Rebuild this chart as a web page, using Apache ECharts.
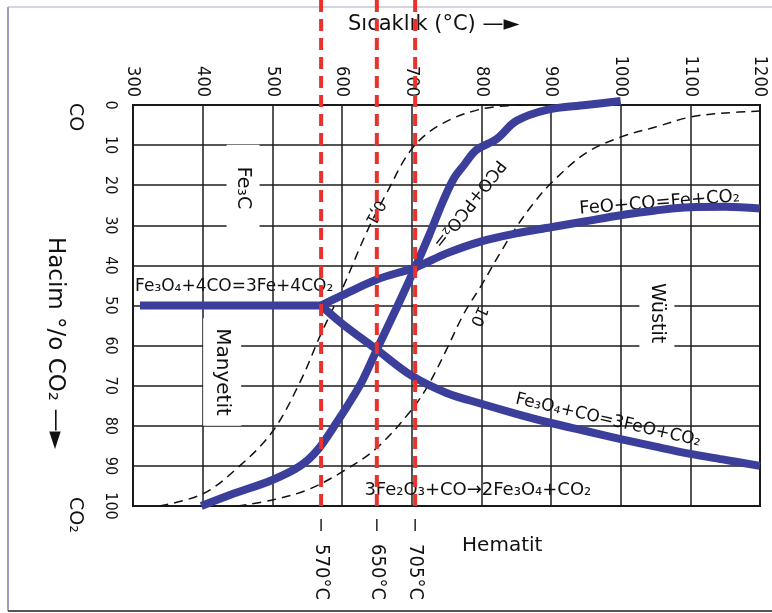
<!DOCTYPE html>
<html>
<head>
<meta charset="utf-8">
<script src="https://cdn.jsdelivr.net/npm/echarts@6/dist/echarts.min.js"></script>
<style>
  html, body { margin: 0; padding: 0; background: #fff; }
  #chart { width: 772px; height: 613px; }
</style>
</head>
<body>
<div id="chart"></div>
<script>
// Temperature (°C) vs. gas composition (vol.% CO2) – iron oxide reduction equilibria
const tempMin = 300, tempMax = 1200, tempStep = 100;
const co2Min = 0, co2Max = 100, co2Step = 10;

// Phase boundaries [°C, % CO2]
const fe3o4ToFe = [[310, 50], [570, 50]];
const feoToFe = [[570, 50], [600, 47.5], [650, 43.5], [705, 40.5], [750, 37], [800, 34], [850, 32],
  [900, 30.5], [950, 29], [1000, 27.5], [1050, 26.3], [1100, 25.5], [1150, 25.4], [1200, 25.8]];
const fe3o4ToFeo = [[570, 50], [600, 54.5], [650, 61], [700, 67.5], [750, 71.8], [800, 74.5], [850, 77],
  [900, 79.3], [950, 81.3], [1000, 83.3], [1050, 85.2], [1100, 87], [1150, 88.5], [1200, 90]];

// Boudouard equilibrium, total pressure 1 atm
const boudouard1 = [[398, 100], [440, 97.2], [500, 93.5], [540, 90], [565, 86], [593, 79], [615, 73],
  [630, 68.5], [650, 61], [680, 50], [705, 40.5], [725, 32.5], [745, 24], [760, 18.5], [775, 15],
  [793, 11.2], [822, 8.5], [850, 4], [894, 1.2], [950, 0], [1000, -1]];
// Boudouard equilibrium, 0.1 atm and 10 atm
const boudouard01 = [[338, 100], [400, 97], [450, 90.5], [500, 81.5], [540, 69], [570, 57], [600, 46],
  [636, 31.5], [664, 22], [700, 11], [740, 5], [800, 1], [860, 0]];
const boudouard10 = [[450, 100], [500, 98.5], [550, 96], [600, 91.5], [650, 85.5], [700, 76], [725, 69.5],
  [750, 61], [775, 52], [800, 45], [825, 37.5], [850, 30.5], [875, 24.5], [900, 19.5], [950, 12],
  [1000, 8], [1050, 5.5], [1100, 3], [1150, 2], [1200, 1.5]];

// Characteristic temperatures
const isotherms = [570, 650, 705];

const FONT = "'DejaVu Sans', sans-serif";
const NARROW = "'DejaVu Sans Condensed', 'DejaVu Sans', sans-serif";
const BLUE = '#3b3e9a';
const RED = '#e8322b';

const chart = echarts.init(document.getElementById('chart'), null, { renderer: 'canvas' });

function thick(data) {
  return {
    type: 'line', data: data, showSymbol: false, symbol: 'none', smooth: 0.35,
    clip: false, z: 5,
    lineStyle: { color: BLUE, width: 8, cap: 'butt', join: 'round' }
  };
}
function dashed(data) {
  return {
    type: 'line', data: data, showSymbol: false, symbol: 'none', smooth: 0.35,
    clip: true, z: 4,
    lineStyle: { color: '#111', width: 1.5, type: [9, 6] }
  };
}

chart.setOption({
  animation: false,
  backgroundColor: '#fff',
  grid: { left: 133, top: 105, width: 627, height: 401, show: true, borderColor: '#111', borderWidth: 2,
    backgroundColor: 'transparent' },
  xAxis: {
    type: 'value', position: 'top', min: tempMin, max: tempMax, interval: tempStep,
    axisLine: { show: false }, axisTick: { show: false },
    axisLabel: { rotate: -90, margin: 8, fontSize: 18, fontFamily: NARROW, color: '#111',
      formatter: v => String(v) },
    splitLine: { show: true, lineStyle: { color: '#1c1c1c', width: 1.5 } }
  },
  yAxis: {
    type: 'value', inverse: true, min: co2Min, max: co2Max, interval: co2Step,
    axisLine: { show: false }, axisTick: { show: false },
    axisLabel: { rotate: -90, margin: 15, fontSize: 16, fontFamily: NARROW, color: '#111',
      formatter: v => String(v) },
    splitLine: { show: true, lineStyle: { color: '#1c1c1c', width: 1.5 } }
  },
  series: [
    dashed(boudouard01),
    dashed(boudouard10),
    thick(fe3o4ToFe),
    thick(feoToFe),
    thick(fe3o4ToFeo),
    thick(boudouard1),
    {
      type: 'custom', coordinateSystem: 'cartesian2d', clip: false, z: 10,
      data: isotherms.map(t => [t, 0]),
      renderItem: function (params, api) {
        const t = api.value(0);
        const x = api.coord([t, co2Min])[0];
        const yB = api.coord([t, co2Max])[1];
        return {
          type: 'group', children: [
            { type: 'line', shape: { x1: x, y1: 0, x2: x, y2: yB + 3 },
              style: { stroke: RED, lineWidth: 4, lineDash: [12, 7] } },
            { type: 'line', shape: { x1: x, y1: yB + 13, x2: x, y2: yB + 25 },
              style: { stroke: '#222', lineWidth: 1.5 } },
            { type: 'text', x: x, y: yB + 66, rotation: -Math.PI / 2,
              style: { text: t + '°C', fontSize: 20, fontFamily: NARROW, fill: '#111',
                align: 'center', verticalAlign: 'middle' } }
          ]
        };
      }
    }
  ]
});

// Text annotations placed in data coordinates
const deg = d => d * Math.PI / 180;
const annotations = [
  { text: 'Fe₃C', at: [458, 20.7], rot: -90, size: 19, pad: [7, 22] },
  { text: 'Manyetit', at: [428, 66.6], rot: -90, size: 20, pad: [9, 10] },
  { text: 'Wüstit', at: [1052, 51.9], rot: -90, size: 19, pad: [8, 6] },
  { text: 'Hematit', at: [830, 110], rot: 0, size: 20 },
  { text: 'Fe₃O₄+4CO=3Fe+4CO₂', at: [303, 45.4], rot: 0, size: 17, align: 'left' },
  { text: 'FeO+CO=Fe+CO₂', at: [1056, 24.4], rot: 4.5, size: 18 },
  { text: 'Fe₃O₄+CO=3FeO+CO₂', at: [982, 78.6], rot: -13, size: 17 },
  { text: '3Fe₂O₃+CO→2Fe₃O₄+CO₂', at: [795, 96], rot: 0, size: 18 },
  { text: 'PCO+PCO₂=', at: [782, 24.6], rot: -128, size: 17 },
  { text: '0,1', at: [647, 26.7], rot: -118, size: 16 },
  { text: '10', at: [796, 52.6], rot: -115, size: 16 }
];

const graphics = annotations.map(a => {
  const p = chart.convertToPixel({ gridIndex: 0 }, a.at);
  const style = { text: a.text, fontSize: a.size, fontFamily: FONT, fill: '#111',
    align: a.align || 'center', verticalAlign: 'middle' };
  if (a.pad) { style.backgroundColor = '#fff'; style.padding = a.pad; }
  return { type: 'text', x: p[0], y: p[1], rotation: deg(a.rot), z: 1, style: style };
});

// Axis titles and frame
graphics.push(
  { type: 'text', x: 348, y: 25, z: 1,
    style: { text: 'Sıcaklık (°C) —►', fontSize: 21, fontFamily: FONT, fill: '#111',
      align: 'left', verticalAlign: 'middle' } },
  { type: 'text', x: 55, y: 343, rotation: -Math.PI / 2, z: 1,
    style: { text: 'Hacim °/o CO₂ —►', fontSize: 23, fontFamily: FONT, fill: '#111',
      align: 'center', verticalAlign: 'middle' } },
  { type: 'text', x: 75, y: 117, rotation: -Math.PI / 2, z: 1,
    style: { text: 'CO', fontSize: 19, fontFamily: FONT, fill: '#111', align: 'center', verticalAlign: 'middle' } },
  { type: 'text', x: 75, y: 515, rotation: -Math.PI / 2, z: 1,
    style: { text: 'CO₂', fontSize: 19, fontFamily: FONT, fill: '#111', align: 'center', verticalAlign: 'middle' } },
  { type: 'line', z: 1, shape: { x1: 8, y1: 7, x2: 772, y2: 7 }, style: { stroke: '#c4c4d8', lineWidth: 1.5 } },
  { type: 'line', z: 1, shape: { x1: 8, y1: 7, x2: 8, y2: 611 }, style: { stroke: '#9d9dc8', lineWidth: 2 } },
  { type: 'line', z: 1, shape: { x1: 8, y1: 611, x2: 772, y2: 611 }, style: { stroke: '#555', lineWidth: 2 } }
);

chart.setOption({ graphic: graphics });
</script>
</body>
</html>
